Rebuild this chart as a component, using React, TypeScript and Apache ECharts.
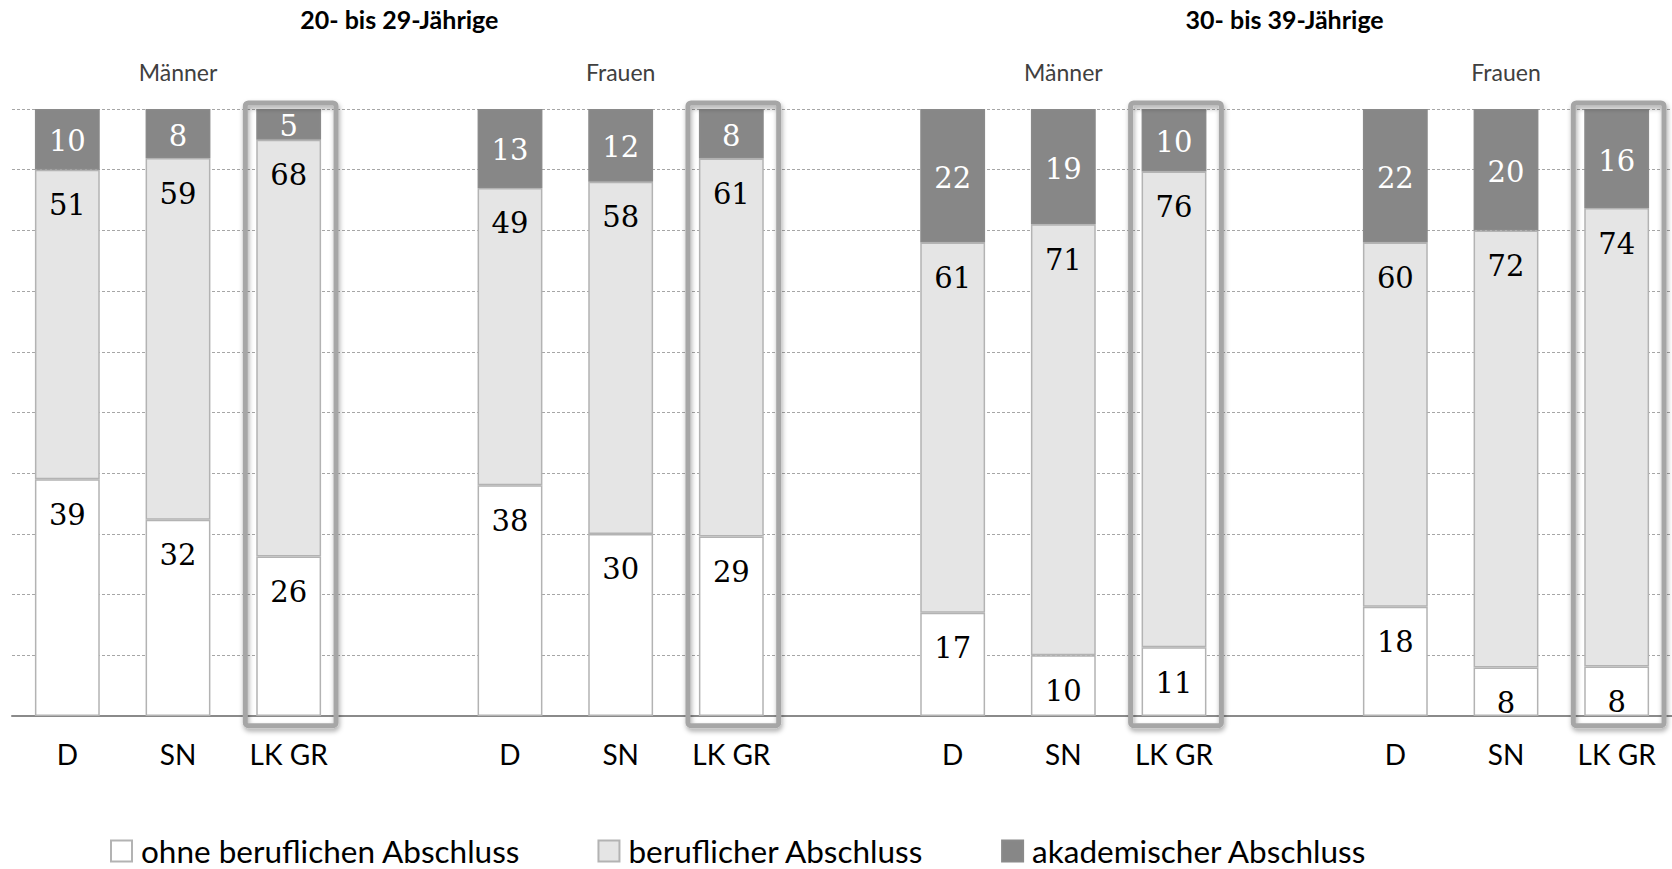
import React, { useEffect, useRef } from "react";
import * as echarts from "echarts";

const regions = ["D", "SN", "LK GR"];
const sexGroups = ["Männer", "Frauen", "Männer", "Frauen"];
const ageGroups = ["20- bis 29-Jährige", "30- bis 39-Jährige"];
const seriesNames = ["ohne beruflichen Abschluss", "beruflicher Abschluss", "akademischer Abschluss"];
const ohne = [39, 32, 26, 38, 30, 29, 17, 10, 11, 18, 8, 8];
const beruflich = [51, 59, 68, 49, 58, 61, 61, 71, 76, 60, 72, 74];
const akademisch = [10, 8, 5, 13, 12, 8, 22, 19, 10, 22, 20, 16];
const highlighted = "LK GR";

export default function App() {
  const ref = useRef<HTMLDivElement>(null);
  useEffect(() => {
    if (!ref.current) return;
    const chart = echarts.init(ref.current, null, { renderer: "svg" });

    // build slots: 3 bars per group + 1 empty gap slot between groups
    const slotIdx: (number | null)[] = [];
    const bottomCats: string[] = [];
    const sexCats: string[] = [];
    const ageCats: string[] = [];
    sexGroups.forEach((sex, g) => {
      regions.forEach((r, ri) => {
        slotIdx.push(g * regions.length + ri);
        bottomCats.push(r);
        sexCats.push(ri === 1 ? sex : "");
        ageCats.push("");
      });
      if (g < sexGroups.length - 1) {
        slotIdx.push(null);
        bottomCats.push("");
        sexCats.push("");
        ageCats.push("");
      }
    });
    ageGroups.forEach((a, k) => {
      ageCats[3 + 8 * k] = a;
    });

    const raw = [ohne, beruflich, akademisch];
    const totals = ohne.map((v, i) => v + beruflich[i] + akademisch[i]);
    const fills = ["#ffffff", "#e5e5e5", "#878787"];
    const borders = ["#b3b3b3", "#b3b3b3", "#8a8a8a"];
    const labelColors = ["#000000", "#000000", "#ffffff"];

    const barSeries = raw.map((arr, s) => ({
      name: seriesNames[s],
      type: "bar",
      stack: "total",
      barWidth: "58.6%",
      xAxisIndex: 0,
      data: slotIdx.map((k) => (k === null ? "-" : (arr[k] / totals[k]) * 100)),
      itemStyle: { color: fills[s], borderColor: borders[s], borderWidth: 1.5 },
      label: {
        show: true,
        position: s === 2 ? "inside" : "insideTop",
        distance: 21,
        offset: s === 2 ? [0, 2] : [0, 0],
        color: labelColors[s],
        fontFamily: "DejaVu Serif",
        fontSize: 29,
        formatter: (p: any) => {
          const k = slotIdx[p.dataIndex];
          return k === null ? "" : String(arr[k]);
        },
      },
    }));

    const boxData = slotIdx
      .map((k, i) => (k !== null && regions[k % regions.length] === highlighted ? [i, 100] : null))
      .filter((d) => d !== null);

    const option: any = {
      animation: false,
      backgroundColor: "#ffffff",
      grid: { left: 12, right: -3, top: 109, bottom: 153, containLabel: false },
      legend: {
        data: seriesNames,
        left: 110,
        top: 835,
        padding: 0,
        icon: "rect",
        itemWidth: 21,
        itemHeight: 21,
        itemGap: 77,
        textStyle: { fontFamily: "Lato", fontSize: 31.5, lineHeight: 32, color: "#000000", padding: [0, 0, 0, 4] },
      },
      xAxis: [
        {
          type: "category",
          data: bottomCats,
          position: "bottom",
          axisLine: { show: true, lineStyle: { color: "#8a8a8a", width: 2 } },
          axisTick: { show: false },
          axisLabel: { interval: 0, margin: 24, fontFamily: "Lato", fontSize: 28, color: "#000000" },
        },
        {
          type: "category",
          data: sexCats,
          position: "top",
          axisLine: { show: false },
          axisTick: { show: false },
          axisLabel: { interval: 0, margin: 26, fontFamily: "Lato", fontSize: 23, color: "#404040" },
        },
        {
          type: "category",
          data: ageCats,
          position: "top",
          axisLine: { show: false },
          axisTick: { show: false },
          axisLabel: { interval: 0, margin: 78, fontFamily: "Lato", fontWeight: "bold", fontSize: 25, color: "#000000" },
        },
      ],
      yAxis: {
        type: "value",
        min: 0,
        max: 100,
        interval: 10,
        axisLabel: { show: false },
        axisLine: { show: false },
        axisTick: { show: false },
        splitLine: { show: true, lineStyle: { type: [3, 2], color: "#a6a6a6", width: 1 } },
      },
      series: [
        ...barSeries,
        {
          type: "custom",
          name: "highlight",
          xAxisIndex: 0,
          clip: false,
          silent: true,
          z: 5,
          data: boxData,
          renderItem: (params: any, api: any) => {
            const i = api.value(0);
            const top = api.coord([i, 101]);
            const bot = api.coord([i, -1.6]);
            const w = api.size([1, 0])[0] * 0.82;
            return {
              type: "rect",
              shape: { x: top[0] - w / 2 + 2, y: top[1], width: w, height: bot[1] - top[1], r: 3 },
              style: {
                fill: "none",
                stroke: "#a6a6a6",
                lineWidth: 5,
                shadowBlur: 5,
                shadowColor: "rgba(0,0,0,0.35)",
                shadowOffsetX: 1,
                shadowOffsetY: 3,
              },
            };
          },
        },
      ],
    };
    chart.setOption(option);
    return () => chart.dispose();
  }, []);
  return (
    <div
      ref={ref}
      style={{ position: "absolute", left: 0, top: 0, width: 1672, height: 869, background: "#fff" }}
    />
  );
}
